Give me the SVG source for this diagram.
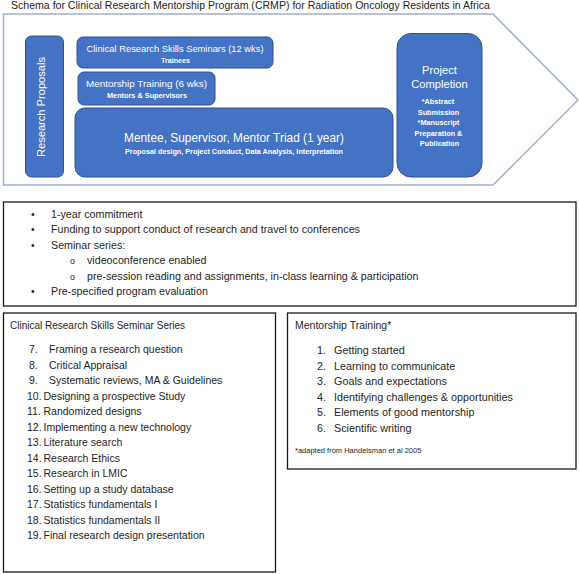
<svg xmlns="http://www.w3.org/2000/svg" width="579" height="574" viewBox="0 0 579 574">
<defs>
<style>
.t{font-family:"Liberation Sans",Arial,sans-serif;fill:#1e1e1e}
.w{font-family:"Liberation Sans",Arial,sans-serif;fill:#ffffff;text-anchor:middle}
.b{font-weight:bold}
.blue{fill:#4472C4;stroke:#2F528F;stroke-width:1}
.frame{fill:#ffffff;stroke:#1a1a1a;stroke-width:1.3}
.li{font-size:10.5px}
.ri{font-size:10.8px}
.bl{font-size:10.7px}
</style>
</defs>
<rect width="579" height="574" fill="#ffffff"/>
<text class="t" x="11" y="9" font-size="10.7" textLength="479" lengthAdjust="spacingAndGlyphs">Schema for Clinical Research Mentorship Program (CRMP) for Radiation Oncology Residents in Africa</text>

<g id="arrow">
<polygon points="3.5,14 493,14 578,100 493,185 3.5,185" fill="#ffffff" stroke="#9fb0cf" stroke-width="1.5"/>
</g>

<g id="research-proposals">
<rect class="blue" x="25.5" y="36" width="38" height="141" rx="6"/>
<text class="w" transform="translate(44.5,107) rotate(-90)" font-size="11.5" textLength="100" lengthAdjust="spacingAndGlyphs">Research Proposals</text>
</g>

<g id="seminars">
<rect class="blue" x="77" y="37" width="196" height="31" rx="6"/>
<text class="w" x="175" y="51.5" font-size="9.5" textLength="177" lengthAdjust="spacingAndGlyphs">Clinical Research Skills Seminars (12 wks)</text>
<text class="w b" x="175.5" y="62.5" font-size="7" textLength="29" lengthAdjust="spacingAndGlyphs">Trainees</text>
</g>

<g id="mentorship-training">
<rect class="blue" x="78" y="72" width="137" height="33" rx="6"/>
<text class="w" x="146.5" y="87" font-size="9.8" textLength="121" lengthAdjust="spacingAndGlyphs">Mentorship Training (6 wks)</text>
<text class="w b" x="147" y="98" font-size="7.3" textLength="80" lengthAdjust="spacingAndGlyphs">Mentors &amp; Supervisors</text>
</g>

<g id="triad">
<rect class="blue" x="75" y="108" width="318" height="69" rx="10"/>
<text class="w" x="234" y="142" font-size="12" textLength="220" lengthAdjust="spacingAndGlyphs">Mentee, Supervisor, Mentor Triad (1 year)</text>
<text class="w b" x="234" y="154" font-size="7.3" textLength="218" lengthAdjust="spacingAndGlyphs">Proposal design, Project Conduct, Data Analysis, Interpretation</text>
</g>

<g id="project-completion">
<rect class="blue" x="397" y="33.5" width="85" height="143.5" rx="14"/>
<text class="w" x="439.5" y="74" font-size="11.2">Project</text>
<text class="w" x="439.5" y="87.5" font-size="11.2">Completion</text>
<text class="w b" font-size="7.3">
<tspan x="439" y="104">*Abstract</tspan>
<tspan x="439.5" y="114.5">Submission</tspan>
<tspan x="439.5" y="125">*Manuscript</tspan>
<tspan x="439.5" y="135.5">Preparation &amp;</tspan>
<tspan x="439.5" y="146">Publication</tspan>
</text>
</g>

<g id="connectors"></g>

<g id="program-features">
<rect class="frame" x="3.5" y="202" width="572.5" height="104"/>
<g class="t bl">
<text x="31" y="217.5">•</text><text x="51" y="217.5">1-year commitment</text>
<text x="31" y="233">•</text><text x="51" y="233">Funding to support conduct of research and travel to conferences</text>
<text x="31" y="248.5">•</text><text x="51" y="248.5">Seminar series:</text>
<text x="70" y="264" font-size="9">o</text><text x="87" y="264">videoconference enabled</text>
<text x="70" y="279.5" font-size="9">o</text><text x="87" y="279.5">pre-session reading and assignments, in-class learning &amp; participation</text>
<text x="31" y="295">•</text><text x="51" y="295">Pre-specified program evaluation</text>
</g>
</g>

<g id="seminar-series">
<rect class="frame" x="3.5" y="313" width="272" height="259"/>
<text class="t" x="10" y="329" font-size="10">Clinical Research Skills Seminar Series</text>
<g class="t li">
<text x="29" y="353">7.</text><text x="49" y="353">Framing a research question</text>
<text x="29" y="368.5">8.</text><text x="49" y="368.5">Critical Appraisal</text>
<text x="29" y="384">9.</text><text x="49" y="384">Systematic reviews, MA &amp; Guidelines</text>
<text x="27" y="399.5">10.</text><text x="43.5" y="399.5">Designing a prospective Study</text>
<text x="27" y="415">11.</text><text x="43.5" y="415">Randomized designs</text>
<text x="27" y="430.5">12.</text><text x="43.5" y="430.5">Implementing a new technology</text>
<text x="27" y="446">13.</text><text x="43.5" y="446">Literature search</text>
<text x="27" y="461.5">14.</text><text x="43.5" y="461.5">Research Ethics</text>
<text x="27" y="477">15.</text><text x="43.5" y="477">Research in LMIC</text>
<text x="27" y="492.5">16.</text><text x="43.5" y="492.5">Setting up a study database</text>
<text x="27" y="508">17.</text><text x="43.5" y="508">Statistics fundamentals I</text>
<text x="27" y="523.5">18.</text><text x="43.5" y="523.5">Statistics fundamentals II</text>
<text x="27" y="539">19.</text><text x="43.5" y="539">Final research design presentation</text>
</g>
</g>

<g id="mentorship-curriculum">
<rect class="frame" x="287.5" y="313" width="288.5" height="156"/>
<text class="t" x="295" y="329" font-size="10.5">Mentorship Training*</text>
<g class="t ri">
<text x="317" y="354">1.</text><text x="334" y="354">Getting started</text>
<text x="317" y="369.5">2.</text><text x="334" y="369.5">Learning to communicate</text>
<text x="317" y="385">3.</text><text x="334" y="385">Goals and expectations</text>
<text x="317" y="400.5">4.</text><text x="334" y="400.5">Identifying challenges &amp; opportunities</text>
<text x="317" y="416">5.</text><text x="334" y="416">Elements of good mentorship</text>
<text x="317" y="431.5">6.</text><text x="334" y="431.5">Scientific writing</text>
</g>
<text class="t" x="295" y="453" font-size="7.5">*adapted from Handelsman et al 2005</text>
</g>
</svg>
